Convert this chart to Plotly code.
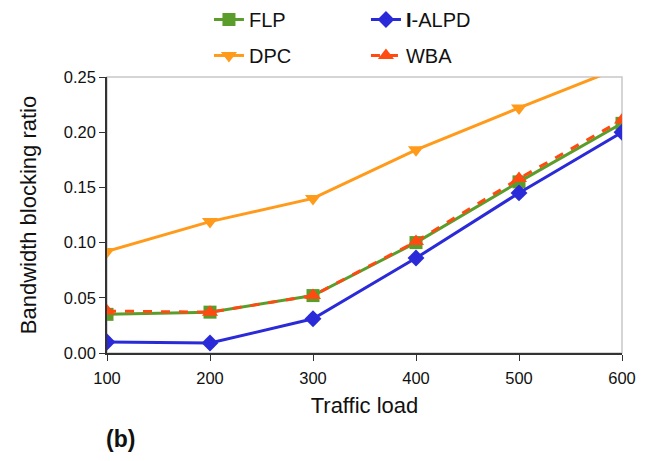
import plotly.graph_objects as go

loads = [100, 200, 300, 400, 500, 600]
flp = [0.035, 0.037, 0.052, 0.100, 0.155, 0.208]
alpd = [0.010, 0.009, 0.031, 0.086, 0.145, 0.200]
dpc = [0.092, 0.119, 0.140, 0.184, 0.222, 0.259]
wba = [0.038, 0.037, 0.052, 0.101, 0.158, 0.211]

FONT = "Liberation Sans, Arial, sans-serif"

fig = go.Figure()
fig.add_trace(go.Scatter(x=loads, y=flp, name="FLP", mode="lines+markers",
                         line=dict(color="#5b9d2a", width=3),
                         marker=dict(symbol="square", size=13, color="#5b9d2a"),
                         legend="legend"))
fig.add_trace(go.Scatter(x=loads, y=alpd, name="<b>I</b>-ALPD", mode="lines+markers",
                         line=dict(color="#2a2ad8", width=3),
                         marker=dict(symbol="diamond", size=13, color="#2a2ad8"),
                         legend="legend"))
fig.add_trace(go.Scatter(x=loads, y=dpc, name="DPC", mode="lines+markers",
                         line=dict(color="#ff9a1a", width=3),
                         marker=dict(symbol="triangle-down", size=14, color="#ff9a1a"),
                         legend="legend2"))
fig.add_trace(go.Scatter(x=loads, y=wba, name="WBA", mode="lines+markers",
                         line=dict(color="#ff4a12", width=3, dash="dash"),
                         marker=dict(symbol="triangle-up", size=14, color="#ff4a12"),
                         legend="legend2"))

fig.update_layout(
    width=653, height=461,
    margin=dict(l=107, r=31, t=77, b=108, autoexpand=False),
    paper_bgcolor="white", plot_bgcolor="white",
    font=dict(family=FONT, size=16, color="#111"),
    legend=dict(orientation="h", x=0.32, y=1.0, xref="container", yref="container",
                xanchor="left", yanchor="top", font=dict(size=20),
                entrywidth=112, bgcolor="rgba(0,0,0,0)"),
    legend2=dict(orientation="h", x=0.32, y=0.922, xref="container", yref="container",
                 xanchor="left", yanchor="top", font=dict(size=20),
                 entrywidth=112, bgcolor="rgba(0,0,0,0)"),
    xaxis=dict(range=[100, 600], tickvals=loads, ticks="outside", ticklen=6,
               tickcolor="#333", showline=True, linecolor="#333", linewidth=1.5,
               showgrid=False, zeroline=False, ticklabelstandoff=3,
               title=dict(text="Traffic load", font=dict(size=22), standoff=12),
               tickfont=dict(size=16.5)),
    yaxis=dict(range=[0, 0.25], dtick=0.05, tickformat=".2f", ticks="outside",
               ticklen=6, tickcolor="#333", showline=True, linecolor="#333",
               linewidth=1.5, showgrid=False, zeroline=False,
               title=dict(text="Bandwidth blocking ratio", font=dict(size=22), standoff=21),
               tickfont=dict(size=16.5)),
    shapes=[dict(type="rect", xref="paper", yref="paper", x0=0, y0=0, x1=1, y1=1,
                 line=dict(color="#c8c8c8", width=1.5), layer="below")],
    annotations=[dict(text="<b>(b)</b>", x=(104 - 107) / 515, y=-(439 - 353) / 276,
                      xref="paper", yref="paper", xanchor="left", yanchor="middle",
                      showarrow=False, font=dict(size=23))],
)

fig.write_html("out.html")
